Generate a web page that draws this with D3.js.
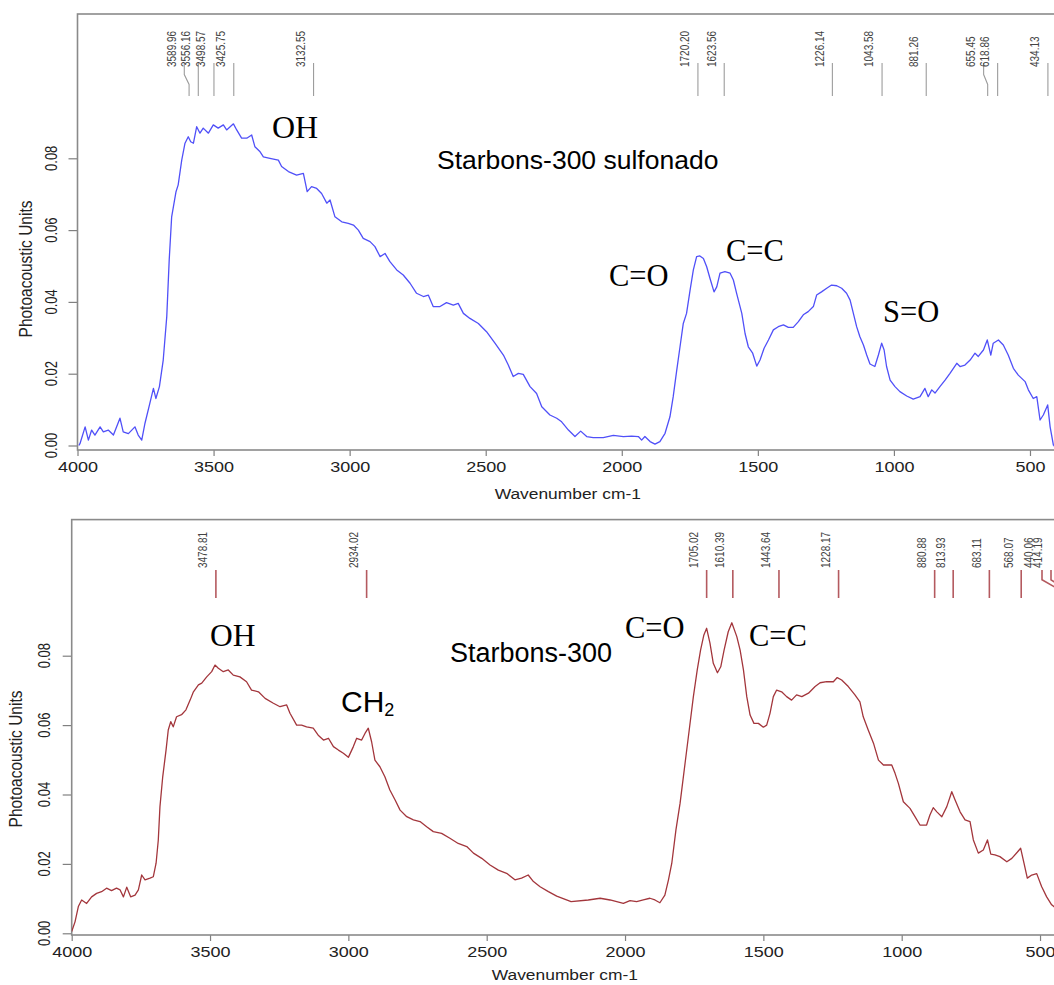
<!DOCTYPE html>
<html>
<head>
<meta charset="utf-8">
<script src="https://cdn.jsdelivr.net/npm/d3@7"></script>
<style>
  body { margin: 0; background: #fff; }
  svg { display: block; }
</style>
</head>
<body>
<svg id="chart" width="1054" height="985"></svg>
<script>
// Axis ticks shared by both spectra
const xTickValues = [4000, 3500, 3000, 2500, 2000, 1500, 1000, 500];
const yTickValues = [0, 0.02, 0.04, 0.06, 0.08];

// Starbons-300 sulfonado: wavenumber (cm-1) and photoacoustic signal
const sulfWavenumber = [3995, 3991, 3972, 3960, 3948, 3936, 3917, 3905, 3887, 3868, 3844, 3832, 3813, 3789, 3777, 3764, 3752, 3734, 3721, 3712, 3699, 3685, 3672, 3663, 3654, 3638, 3630, 3617, 3605, 3593, 3584, 3574, 3562, 3550, 3538, 3519, 3501, 3483, 3464, 3452, 3427, 3415, 3397, 3378, 3360, 3348, 3329, 3317, 3293, 3262, 3250, 3225, 3195, 3170, 3156, 3140, 3121, 3103, 3084, 3072, 3054, 3029, 3005, 2986, 2968, 2950, 2925, 2907, 2888, 2870, 2852, 2827, 2803, 2778, 2754, 2729, 2711, 2693, 2668, 2644, 2619, 2601, 2582, 2558, 2527, 2497, 2466, 2435, 2417, 2399, 2380, 2362, 2337, 2313, 2294, 2264, 2239, 2221, 2196, 2172, 2151, 2129, 2105, 2068, 2031, 1994, 1964, 1939, 1927, 1915, 1896, 1878, 1860, 1841, 1823, 1811, 1798, 1786, 1774, 1762, 1749, 1737, 1725, 1713, 1700, 1688, 1676, 1661, 1651, 1639, 1621, 1602, 1590, 1578, 1559, 1547, 1535, 1519, 1504, 1492, 1477, 1461, 1443, 1425, 1406, 1388, 1370, 1351, 1333, 1315, 1296, 1284, 1266, 1247, 1229, 1210, 1192, 1174, 1161, 1149, 1137, 1125, 1112, 1100, 1088, 1070, 1057, 1045, 1036, 1027, 1014, 996, 978, 953, 929, 904, 886, 874, 861, 849, 831, 812, 794, 769, 757, 739, 720, 702, 690, 671, 657, 644, 635, 616, 598, 580, 561, 543, 518, 506, 488, 475, 463, 451, 435, 426, 414, 400];
const sulfSignal = [0.0000, 0.0005, 0.0052, 0.0015, 0.0043, 0.0029, 0.0052, 0.0038, 0.0043, 0.0029, 0.0076, 0.0038, 0.0033, 0.0052, 0.0029, 0.0015, 0.0062, 0.0118, 0.0159, 0.0131, 0.0164, 0.0238, 0.0359, 0.0517, 0.0637, 0.0707, 0.0726, 0.0795, 0.0842, 0.0860, 0.0846, 0.0842, 0.0888, 0.0870, 0.0884, 0.0870, 0.0893, 0.0884, 0.0893, 0.0879, 0.0896, 0.0879, 0.0856, 0.0856, 0.0865, 0.0832, 0.0818, 0.0804, 0.0800, 0.0795, 0.0777, 0.0763, 0.0753, 0.0758, 0.0707, 0.0721, 0.0716, 0.0702, 0.0675, 0.0684, 0.0637, 0.0623, 0.0619, 0.0614, 0.0600, 0.0577, 0.0568, 0.0554, 0.0526, 0.0535, 0.0512, 0.0489, 0.0475, 0.0452, 0.0424, 0.0415, 0.0419, 0.0387, 0.0387, 0.0398, 0.0391, 0.0396, 0.0368, 0.0354, 0.0340, 0.0317, 0.0285, 0.0252, 0.0224, 0.0192, 0.0201, 0.0198, 0.0164, 0.0145, 0.0108, 0.0085, 0.0076, 0.0066, 0.0043, 0.0025, 0.0040, 0.0025, 0.0022, 0.0022, 0.0028, 0.0025, 0.0026, 0.0025, 0.0015, 0.0025, 0.0011, 0.0004, 0.0011, 0.0034, 0.0080, 0.0136, 0.0210, 0.0275, 0.0340, 0.0368, 0.0433, 0.0489, 0.0526, 0.0528, 0.0521, 0.0498, 0.0466, 0.0428, 0.0442, 0.0480, 0.0484, 0.0480, 0.0461, 0.0424, 0.0368, 0.0312, 0.0275, 0.0257, 0.0221, 0.0238, 0.0271, 0.0294, 0.0322, 0.0331, 0.0336, 0.0329, 0.0329, 0.0345, 0.0364, 0.0373, 0.0387, 0.0419, 0.0428, 0.0438, 0.0447, 0.0445, 0.0438, 0.0424, 0.0405, 0.0368, 0.0331, 0.0303, 0.0280, 0.0252, 0.0227, 0.0220, 0.0252, 0.0285, 0.0266, 0.0220, 0.0182, 0.0164, 0.0150, 0.0138, 0.0129, 0.0136, 0.0159, 0.0136, 0.0155, 0.0146, 0.0164, 0.0182, 0.0201, 0.0229, 0.0220, 0.0224, 0.0238, 0.0257, 0.0248, 0.0266, 0.0294, 0.0252, 0.0285, 0.0294, 0.0280, 0.0252, 0.0215, 0.0196, 0.0178, 0.0155, 0.0131, 0.0136, 0.0071, 0.0085, 0.0113, 0.0052, 0.0001, -0.0010];
const sulfPeaks = [3589.96, 3556.16, 3498.57, 3425.75, 3132.55, 1720.20, 1623.56, 1226.14, 1043.58, 881.26, 655.45, 618.86, 434.13];

// Starbons-300: wavenumber (cm-1) and photoacoustic signal
const baseWavenumber = [4000, 3988, 3976, 3964, 3946, 3928, 3910, 3892, 3874, 3856, 3838, 3825, 3813, 3801, 3787, 3771, 3759, 3747, 3735, 3717, 3705, 3695, 3687, 3681, 3671, 3659, 3651, 3642, 3633, 3621, 3603, 3587, 3572, 3560, 3542, 3530, 3512, 3494, 3482, 3470, 3452, 3434, 3416, 3392, 3368, 3350, 3325, 3301, 3271, 3247, 3223, 3211, 3187, 3169, 3151, 3127, 3109, 3090, 3072, 3054, 3036, 3018, 3000, 2982, 2970, 2952, 2940, 2928, 2916, 2904, 2886, 2868, 2850, 2831, 2813, 2789, 2765, 2741, 2717, 2693, 2663, 2633, 2603, 2572, 2548, 2518, 2488, 2458, 2428, 2398, 2374, 2350, 2331, 2307, 2277, 2247, 2195, 2133, 2090, 2054, 2030, 2006, 1982, 1958, 1934, 1910, 1892, 1874, 1856, 1843, 1831, 1816, 1801, 1783, 1768, 1753, 1739, 1727, 1715, 1705, 1693, 1681, 1666, 1654, 1642, 1627, 1614, 1596, 1584, 1572, 1560, 1548, 1534, 1518, 1500, 1488, 1476, 1464, 1452, 1434, 1416, 1398, 1380, 1361, 1337, 1313, 1295, 1271, 1247, 1233, 1217, 1193, 1169, 1151, 1139, 1121, 1102, 1084, 1066, 1048, 1036, 1024, 1012, 994, 970, 952, 934, 910, 898, 886, 873, 855, 837, 819, 807, 789, 771, 753, 741, 723, 705, 690, 678, 663, 645, 620, 602, 584, 570, 558, 546, 530, 512, 494, 476, 458, 430, 400];
const baseSignal = [0.0005, 0.0033, 0.0077, 0.0096, 0.0086, 0.0105, 0.0115, 0.0120, 0.0130, 0.0123, 0.0130, 0.0125, 0.0105, 0.0133, 0.0105, 0.0110, 0.0125, 0.0168, 0.0154, 0.0159, 0.0163, 0.0202, 0.0269, 0.0365, 0.0451, 0.0528, 0.0586, 0.0610, 0.0595, 0.0624, 0.0630, 0.0644, 0.0672, 0.0696, 0.0716, 0.0721, 0.0739, 0.0754, 0.0773, 0.0764, 0.0754, 0.0759, 0.0744, 0.0739, 0.0725, 0.0701, 0.0696, 0.0677, 0.0663, 0.0653, 0.0658, 0.0634, 0.0600, 0.0600, 0.0595, 0.0591, 0.0571, 0.0557, 0.0562, 0.0538, 0.0528, 0.0519, 0.0507, 0.0538, 0.0562, 0.0557, 0.0576, 0.0591, 0.0552, 0.0499, 0.0480, 0.0451, 0.0413, 0.0384, 0.0355, 0.0336, 0.0327, 0.0322, 0.0307, 0.0293, 0.0288, 0.0274, 0.0259, 0.0250, 0.0231, 0.0216, 0.0197, 0.0182, 0.0173, 0.0154, 0.0159, 0.0168, 0.0149, 0.0134, 0.0120, 0.0107, 0.0091, 0.0096, 0.0101, 0.0096, 0.0091, 0.0086, 0.0094, 0.0091, 0.0096, 0.0101, 0.0096, 0.0088, 0.0110, 0.0154, 0.0202, 0.0298, 0.0375, 0.0490, 0.0586, 0.0682, 0.0759, 0.0816, 0.0860, 0.0879, 0.0836, 0.0778, 0.0751, 0.0768, 0.0816, 0.0869, 0.0895, 0.0855, 0.0816, 0.0759, 0.0682, 0.0629, 0.0605, 0.0605, 0.0594, 0.0600, 0.0634, 0.0682, 0.0701, 0.0696, 0.0682, 0.0672, 0.0687, 0.0682, 0.0692, 0.0711, 0.0722, 0.0725, 0.0725, 0.0737, 0.0730, 0.0711, 0.0687, 0.0667, 0.0624, 0.0586, 0.0548, 0.0499, 0.0485, 0.0485, 0.0485, 0.0461, 0.0432, 0.0379, 0.0360, 0.0336, 0.0312, 0.0312, 0.0341, 0.0362, 0.0350, 0.0336, 0.0365, 0.0408, 0.0384, 0.0350, 0.0327, 0.0322, 0.0269, 0.0231, 0.0240, 0.0269, 0.0228, 0.0226, 0.0221, 0.0206, 0.0216, 0.0232, 0.0245, 0.0202, 0.0159, 0.0168, 0.0172, 0.0134, 0.0105, 0.0082, 0.0065, 0.0055];
const basePeaks = [3478.81, 2934.02, 1705.02, 1610.39, 1443.64, 1228.17, 880.88, 813.93, 683.11, 568.07, 440.06, 414.19];

const SANS = '"Liberation Sans", Arial, sans-serif';
const SERIF = '"Liberation Serif", "Times New Roman", serif';
const STRETCH = 1.2; // instrument software renders its text slightly wide

const svg = d3.select("#chart");

// Panel layout
const panels = [
  {
    id: "sulf", wn: sulfWavenumber, sig: sulfSignal, peaks: sulfPeaks,
    left: 77.5, right: 1057.2, top: 14, bottom: 450,
    yZero: 445.5, yTop: 158.3, titleGap: 44,
    stroke: "#5050f8", peakStroke: "#9c9c9c", peakWidth: 1.1,
    peakTextEnd: 67, peakLineTop: 63, peakLineBottom: 96, peakGap: 14,
    yLabelX: 51.5, yTitleX: 26, yTitleY: 269,
    notes: [
      { t: "OH", x: 272, y: 138, f: SERIF, s: 32 },
      { t: "Starbons-300 sulfonado", x: 437, y: 169, f: SANS, s: 26.5 },
      { t: "C=O", x: 609, y: 286, f: SERIF, s: 30.5 },
      { t: "C=C", x: 726, y: 261, f: SERIF, s: 30.5 },
      { t: "S=O", x: 883, y: 322, f: SERIF, s: 30.5 }
    ]
  },
  {
    id: "base", wn: baseWavenumber, sig: baseSignal, peaks: basePeaks,
    left: 71.7, right: 1067.7, top: 519.6, bottom: 935,
    yZero: 933.3, yTop: 655.7, titleGap: 40,
    stroke: "#a3363c", peakStroke: "#b45a5f", peakWidth: 1.6,
    peakTextEnd: 568, peakLineTop: 570, peakLineBottom: 598, peakGap: 9,
    yLabelX: 45, yTitleX: 16, yTitleY: 759,
    notes: [
      { t: "OH", x: 210, y: 646, f: SERIF, s: 31.5 },
      { t: "Starbons-300", x: 450, y: 662, f: SANS, s: 27 },
      { t: "C=O", x: 625, y: 638, f: SERIF, s: 30.5 },
      { t: "C=C", x: 749, y: 646, f: SERIF, s: 30.5 }
    ]
  }
];

panels.forEach(p => {
  const x = d3.scaleLinear().domain([4000, 400]).range([p.left, p.right]);
  const y = d3.scaleLinear().domain([0, 0.08]).range([p.yZero, p.yTop]);
  const g = svg.append("g").attr("class", "panel-" + p.id);

  // clip everything drawn inside the frame
  g.append("clipPath").attr("id", "clip-" + p.id)
    .append("rect")
    .attr("x", p.left).attr("y", p.top)
    .attr("width", p.right - p.left).attr("height", p.bottom - p.top);

  // x axis
  const xAxis = g.append("g")
    .attr("transform", `translate(0,${p.bottom})`)
    .call(d3.axisBottom(x).tickValues(xTickValues).tickSize(6).tickFormat(d3.format("d")));
  xAxis.select(".domain").remove();
  xAxis.selectAll(".tick line").attr("stroke", "#808080").attr("stroke-width", 1.2);
  xAxis.selectAll(".tick text")
    .attr("y", 17).attr("dy", "0.35em")
    .attr("transform", `scale(${STRETCH},1)`)
    .attr("font-family", SANS).attr("font-size", 15).attr("fill", "#222");

  g.append("text")
    .attr("transform", `translate(${(p.left + 1054) / 2 + 2},${p.bottom + p.titleGap}) scale(${STRETCH},1)`)
    .attr("text-anchor", "middle").attr("dominant-baseline", "central")
    .attr("font-family", SANS).attr("font-size", 14.5).attr("fill", "#222")
    .text("Wavenumber cm-1");

  // y axis
  const yAxis = g.append("g")
    .attr("transform", `translate(${p.left},0)`)
    .call(d3.axisLeft(y).tickValues(yTickValues).tickSize(9).tickFormat(""));
  yAxis.select(".domain").remove();
  yAxis.selectAll(".tick line").attr("stroke", "#808080").attr("stroke-width", 1.2);

  g.selectAll(".ylab").data(yTickValues).join("text")
    .attr("class", "ylab")
    .attr("transform", d => `translate(${p.yLabelX},${y(d)}) scale(${STRETCH},1) rotate(-90)`)
    .attr("text-anchor", "middle").attr("dominant-baseline", "central")
    .attr("font-family", SANS).attr("font-size", 13).attr("fill", "#222")
    .text(d3.format(".2f"));

  g.append("text")
    .attr("transform", `translate(${p.yTitleX},${p.yTitleY}) scale(${STRETCH},1) rotate(-90)`)
    .attr("text-anchor", "middle").attr("dominant-baseline", "central")
    .attr("font-family", SANS).attr("font-size", 15.5).attr("fill", "#222")
    .text("Photoacoustic Units");

  // frame
  g.append("rect")
    .attr("x", p.left).attr("y", p.top)
    .attr("width", p.right - p.left).attr("height", p.bottom - p.top)
    .attr("fill", "none").attr("stroke", "#8a8a8a").attr("stroke-width", 1.6);

  const inner = g.append("g").attr("clip-path", `url(#clip-${p.id})`);

  // spectrum
  const pts = p.wn.map((w, i) => [w, p.sig[i]]);
  inner.append("path")
    .datum(pts)
    .attr("fill", "none")
    .attr("stroke", p.stroke)
    .attr("stroke-width", 1.3)
    .attr("stroke-linejoin", "round")
    .attr("d", d3.line().x(d => x(d[0])).y(d => y(d[1])));

  // peak markers: labels spread apart where crowded, leader lines bend back to the peak
  const peaks = p.peaks.map(w => ({ w, px: x(w) })).sort((a, b) => a.px - b.px);
  const maxAnchor = 1051;
  peaks.forEach(d => { d.ax = Math.min(d.px, maxAnchor); });
  for (let i = peaks.length - 2; i >= 0; i--) {
    peaks[i].ax = Math.min(peaks[i].ax, peaks[i + 1].ax - p.peakGap);
  }
  for (let i = 1; i < peaks.length; i++) {
    peaks[i].ax = Math.max(peaks[i].ax, peaks[i - 1].ax + p.peakGap);
  }

  const pk = inner.selectAll(".peak").data(peaks).join("g").attr("class", "peak");
  pk.append("path")
    .attr("fill", "none")
    .attr("stroke", p.peakStroke)
    .attr("stroke-width", p.peakWidth)
    .attr("d", d => {
      const t = p.peakLineTop, b = p.peakLineBottom, h = b - t;
      if (Math.abs(d.ax - d.px) < 0.5) return `M${d.px},${t}V${b}`;
      return `M${d.ax},${t}V${t + h * 0.35}L${d.px},${t + h * 0.65}V${b}`;
    });
  pk.append("text")
    .attr("transform", d => `translate(${d.ax - 13},${p.peakTextEnd}) scale(${STRETCH},1) rotate(-90)`)
    .attr("text-anchor", "start").attr("dominant-baseline", "central")
    .attr("font-family", SANS).attr("font-size", 10).attr("fill", "#444")
    .text(d => d3.format(".2f")(d.w));

  // band assignments
  g.selectAll(".note").data(p.notes).join("text")
    .attr("class", "note")
    .attr("x", d => d.x).attr("y", d => d.y)
    .attr("font-family", d => d.f).attr("font-size", d => d.s)
    .attr("fill", "#000")
    .text(d => d.t);
});

// CH2 band on the Starbons-300 spectrum
const ch2 = svg.append("text")
  .attr("x", 341).attr("y", 712)
  .attr("font-family", SANS).attr("font-size", 30).attr("fill", "#000");
ch2.append("tspan").text("CH");
ch2.append("tspan").attr("font-size", 18).attr("dy", 4).text("2");
</script>
</body>
</html>
